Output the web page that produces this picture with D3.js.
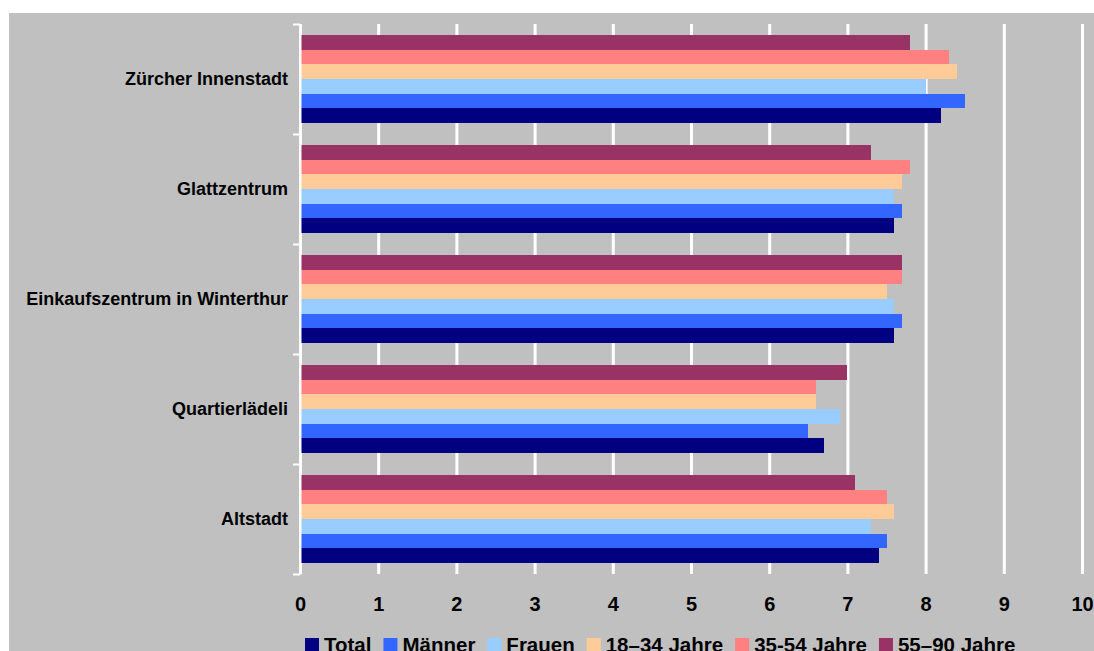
<!DOCTYPE html>
<html>
<head>
<meta charset="utf-8">
<script src="https://cdn.jsdelivr.net/npm/d3@7"></script>
<style>
  html, body { margin: 0; padding: 0; background: #ffffff; }
  svg { display: block; }
  text { font-family: "Liberation Sans", Arial, Helvetica, sans-serif; font-weight: bold; fill: #000; }
</style>
</head>
<body>
<svg id="chart" width="1094" height="651"></svg>
<script>
// Categories, top to bottom
const categories = ["Zürcher Innenstadt", "Glattzentrum", "Einkaufszentrum in Winterthur", "Quartierlädeli", "Altstadt"];

// Series names (legend order)
const seriesNames = ["Total", "Männer", "Frauen", "18–34 Jahre", "35-54 Jahre", "55–90 Jahre"];
const seriesColors = ["#000080", "#3366FF", "#99CCFF", "#FFCC99", "#FF8080", "#993366"];

// Values per series, one entry per category
const total      = [8.2, 7.6, 7.6, 6.7, 7.4];
const maenner    = [8.5, 7.7, 7.7, 6.5, 7.5];
const frauen     = [8.0, 7.6, 7.6, 6.9, 7.3];
const age18_34   = [8.4, 7.7, 7.5, 6.6, 7.6];
const age35_54   = [8.3, 7.8, 7.7, 6.6, 7.5];
const age55_90   = [7.8, 7.3, 7.7, 7.0, 7.1];
const seriesValues = [total, maenner, frauen, age18_34, age35_54, age55_90];

const xTicks = [0, 1, 2, 3, 4, 5, 6, 7, 8, 9, 10];

const svg = d3.select("#chart");

// Grey chart panel
svg.append("rect")
  .attr("x", 9).attr("y", 13)
  .attr("width", 1094 - 9).attr("height", 651 - 13)
  .attr("fill", "#C0C0C0");

const plot = { left: 300, right: 1082, top: 24, bottom: 574 };

const x = d3.scaleLinear().domain([0, 10]).range([plot.left, plot.right]);
const y0 = d3.scaleBand().domain(categories).range([plot.top, plot.bottom]).padding(0);
// Within each category the first series sits at the bottom
const y1 = d3.scaleBand()
  .domain(seriesNames.slice().reverse())
  .range([0, y0.bandwidth()])
  .paddingInner(0)
  .paddingOuter(0.75);

// Vertical gridlines
const grid = svg.append("g")
  .attr("transform", `translate(0,${plot.bottom})`)
  .call(d3.axisBottom(x).tickValues(xTicks).tickSize(-(plot.bottom - plot.top)).tickFormat(""));
grid.select(".domain").remove();
grid.selectAll(".tick line").attr("stroke", "#ffffff").attr("stroke-width", 3);

// Bars
const groups = svg.append("g").selectAll("g")
  .data(categories)
  .join("g")
  .attr("transform", d => `translate(0,${y0(d)})`);

groups.selectAll("rect")
  .data((cat, ci) => seriesNames.map((s, si) => ({ series: s, value: seriesValues[si][ci], color: seriesColors[si] })))
  .join("rect")
  .attr("x", x(0))
  .attr("y", d => y1(d.series))
  .attr("width", d => x(d.value) - x(0))
  .attr("height", y1.bandwidth())
  .attr("fill", d => d.color)
  .attr("shape-rendering", "crispEdges");

// Left axis: line with ticks at category boundaries
const yEdges = d3.scaleLinear().domain([0, categories.length]).range([plot.top, plot.bottom]);
const leftAxis = svg.append("g")
  .attr("transform", `translate(${plot.left},0)`)
  .call(d3.axisLeft(yEdges).ticks(categories.length).tickSize(7).tickSizeOuter(0).tickFormat(""));
leftAxis.selectAll("line, path").attr("stroke", "#ffffff").attr("stroke-width", 2);

// Category labels
const catAxis = svg.append("g")
  .attr("transform", `translate(${plot.left - 12},0)`)
  .call(d3.axisLeft(y0).tickSize(0).tickPadding(0));
catAxis.select(".domain").remove();
catAxis.selectAll("text")
  .style("font-size", "18px")
  .style("font-family", "'Liberation Sans', Arial, sans-serif")
  .style("font-weight", "bold")
  .attr("fill", "#000");

// Value axis labels
const valAxis = svg.append("g")
  .attr("transform", `translate(0,${plot.bottom})`)
  .call(d3.axisBottom(x).tickValues(xTicks).tickSize(0).tickPadding(23).tickFormat(d3.format("d")));
valAxis.select(".domain").remove();
valAxis.selectAll("text")
  .style("font-size", "20px")
  .style("font-family", "'Liberation Sans', Arial, sans-serif")
  .style("font-weight", "bold")
  .attr("fill", "#000");

// Legend along the bottom edge of the panel
const legend = svg.append("g").attr("transform", "translate(305,638)");
let lx = 0;
seriesNames.forEach((name, i) => {
  const item = legend.append("g").attr("transform", `translate(${lx},0)`);
  item.append("rect").attr("width", 14).attr("height", 14).attr("fill", seriesColors[i]);
  const t = item.append("text")
    .attr("x", 19).attr("y", 13.5)
    .style("font-size", "20.5px")
    .text(name);
  lx += 19 + t.node().getComputedTextLength() + 12;
});
</script>
</body>
</html>
